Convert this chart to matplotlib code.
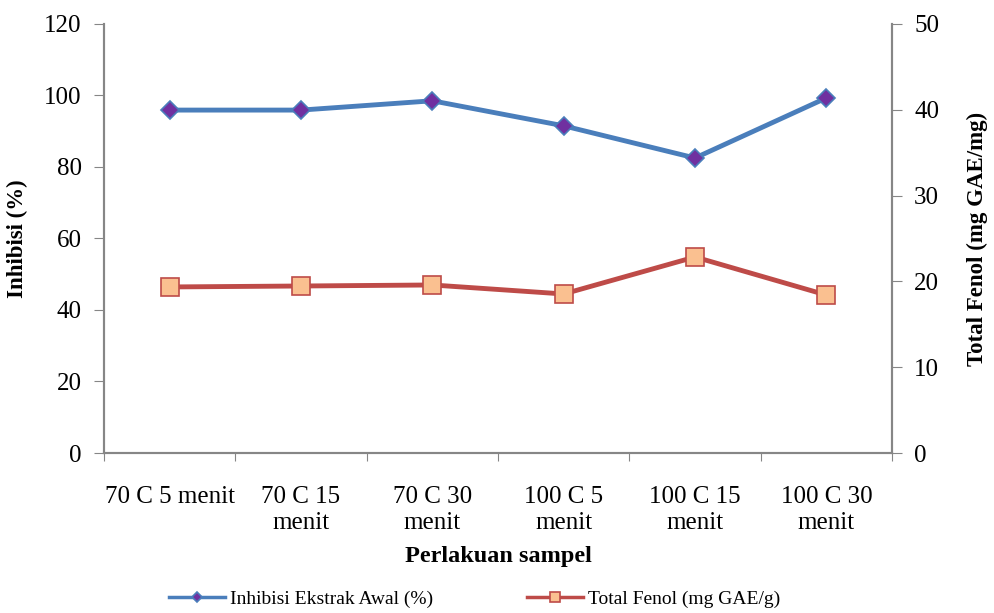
import numpy as np
import matplotlib.pyplot as plt

plt.rcParams['font.family'] = 'Liberation Serif'

kategori = ['70 C 5 menit', '70 C 15\nmenit', '70 C 30\nmenit',
            '100 C 5\nmenit', '100 C 15\nmenit', '100 C 30\nmenit']
inhibisi = [95.9, 95.9, 98.5, 91.5, 82.5, 99.3]
total_fenol = [19.35, 19.46, 19.58, 18.53, 22.84, 18.41]

abu = '#868686'
x = np.arange(len(kategori))

fig = plt.figure(figsize=(9.95, 6.13), dpi=100)
ax = fig.add_axes([0.1045, 0.261, 0.792, 0.7])
ax2 = ax.twinx()

l1, = ax.plot(x, inhibisi, color='#4A7EBB', linewidth=3.5, marker='D',
              markersize=9, markerfacecolor='#7030A0', markeredgecolor='#4A7EBB',
              markeredgewidth=1.2, label='Inhibisi Ekstrak Awal (%)', zorder=3)
l2, = ax2.plot(x, total_fenol, color='#BE4B48', linewidth=3.5, marker='s',
               markersize=13, markerfacecolor='#FAC090', markeredgecolor='#BE4B48',
               markeredgewidth=1.2, label='Total Fenol (mg GAE/g)')

ax.set_xlim(-0.5, len(kategori) - 0.5)
ax.set_ylim(0, 120)
ax.set_yticks(np.arange(0, 121, 20))
ax2.set_ylim(0, 50)
ax2.set_yticks(np.arange(0, 51, 10))

# kategori di tengah, garis tick di batas antar kategori
ax.set_xticks(np.arange(-0.5, len(kategori)), minor=False)
ax.set_xticklabels([])
ax.set_xticks(x, minor=True)
ax.set_xticklabels(kategori, minor=True, fontsize=18, linespacing=1.2)
ax.tick_params(axis='x', which='minor', length=0, pad=24)
ax.tick_params(axis='x', which='major', length=6, color=abu, direction='out')
ax.tick_params(axis='y', labelsize=18, length=7, color=abu, direction='out', pad=9)
ax2.tick_params(axis='y', labelsize=18, length=7, color=abu, direction='out', pad=9)

for a in (ax, ax2):
    a.spines['top'].set_visible(False)
    for s in ('left', 'right', 'bottom'):
        a.spines[s].set_color(abu)
        a.spines[s].set_linewidth(1.5)
for lbl in ax.get_xticklabels(minor=True):
    lbl.set_verticalalignment('top')

ax.set_ylabel('Inhibisi (%)', fontsize=16.5, fontweight='bold', labelpad=12)
ax2.set_ylabel('Total Fenol (mg GAE/mg)', fontsize=16.5, fontweight='bold', labelpad=20)
ax.set_xlabel('Perlakuan sampel', fontsize=17.5, fontweight='bold', labelpad=9)

leg = fig.legend(handles=[l1, l2], loc='lower center', bbox_to_anchor=(0.477, -0.02),
                 ncol=2, frameon=False, fontsize=14, handlelength=2.9, markerscale=0.6,
                 handletextpad=0.25, columnspacing=4.8)
for h in leg.get_lines():
    h.set_linewidth(2.5)

fig.savefig('out.png', dpi=100)
